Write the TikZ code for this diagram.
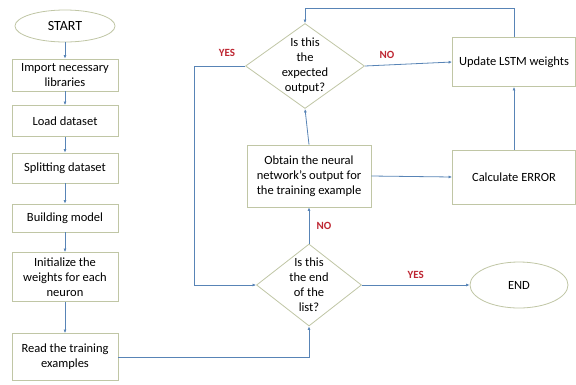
\documentclass[tikz,border=0pt]{standalone}
\usepackage{fontspec}
\setmainfont{Carlito}
\usetikzlibrary{shapes.geometric,arrows.meta}
\definecolor{boxline}{RGB}{192,198,165}
\definecolor{flow}{RGB}{88,132,182}
\definecolor{answer}{RGB}{190,38,50}
\tikzset{
  stepbox/.style={rectangle,draw=boxline,line width=0.8pt,fill=white,align=center,inner sep=1pt},
  term/.style={ellipse,draw=boxline,line width=0.8pt,fill=white,inner sep=0pt},
  test/.style={diamond,draw=boxline,line width=0.8pt,fill=white,inner sep=0pt},
  arr/.style={draw=flow,line width=0.8pt,-{Latex[length=3.5pt,width=3pt]}},
  ans/.style={text=answer,font=\fontsize{11}{13}\selectfont\bfseries}
}
\begin{document}
\begin{tikzpicture}[x=1pt,y=-1pt,font=\fontsize{12.5}{15}\selectfont]
\useasboundingbox (0,0) rectangle (576,384);

% left column
\node[term,minimum width=100pt,minimum height=32pt,font=\fontsize{14}{16}\selectfont] (start) at (65,26) {START};
\node[stepbox,minimum width=106pt,minimum height=32pt] (import) at (65,75) {Import necessary\\libraries};
\node[stepbox,minimum width=106pt,minimum height=31pt] (load) at (65,121) {Load dataset};
\node[stepbox,minimum width=106pt,minimum height=30pt] (split) at (65,168) {Splitting dataset};
\node[stepbox,minimum width=106pt,minimum height=28pt] (build) at (65,218) {Building model};
\node[stepbox,minimum width=106pt,minimum height=49pt] (init) at (65,277) {Initialize the\\weights for each\\neuron};
\node[stepbox,minimum width=106pt,minimum height=47pt] (read) at (65,357) {Read the training\\examples};

% loop
\node[test,minimum width=105pt,minimum height=82pt,label={[align=center]center:Is this\\the end\\of the\\list?}] (islast) at (309,285) {};
\node[stepbox,minimum width=124pt,minimum height=62pt] (obtain) at (309,176) {Obtain the neural\\network’s output for\\the training example};
\node[test,minimum width=119pt,minimum height=85pt,label={[align=center]center:Is this\\the\\expected\\output?}] (isexp) at (305,66) {};
\node[stepbox,minimum width=123pt,minimum height=49pt] (update) at (514,62) {Update LSTM weights};
\node[stepbox,minimum width=123pt,minimum height=54pt] (error) at (514,177) {Calculate ERROR};
\node[term,minimum width=98pt,minimum height=46pt] (finish) at (519,285) {END};

\coordinate (back) at (519,8);
\coordinate (yesleft) at (194,66);

\draw[arr] (start) -- (import);
\draw[arr] (import) -- (load);
\draw[arr] (load) -- (split);
\draw[arr] (split) -- (build);
\draw[arr] (build) -- (init);
\draw[arr] (init) -- (read);
\draw[arr] (read.east) -| (islast.south);
\draw[arr] (islast.north) -- node[ans,right=4pt] {NO} (obtain.south);
\draw[arr] (islast.east) -- node[ans,above=3pt] {YES} (finish.west);
\draw[arr] (obtain.north) -- (isexp.south);
\draw[arr] (obtain.east) -- (error.west);
\draw[arr] (error.north) -- (update.south);
\draw[arr] (isexp.east) -- (update.west);
\node[ans] (nolbl) at (387,55) {NO};
\node[ans] (yeslbl) at (227,53) {YES};
\draw[arr] (update.north) -- (update.north |- back) -| (isexp.north);
\draw[arr] (isexp.west) -- (yesleft) |- (islast.west);
\end{tikzpicture}
\end{document}
